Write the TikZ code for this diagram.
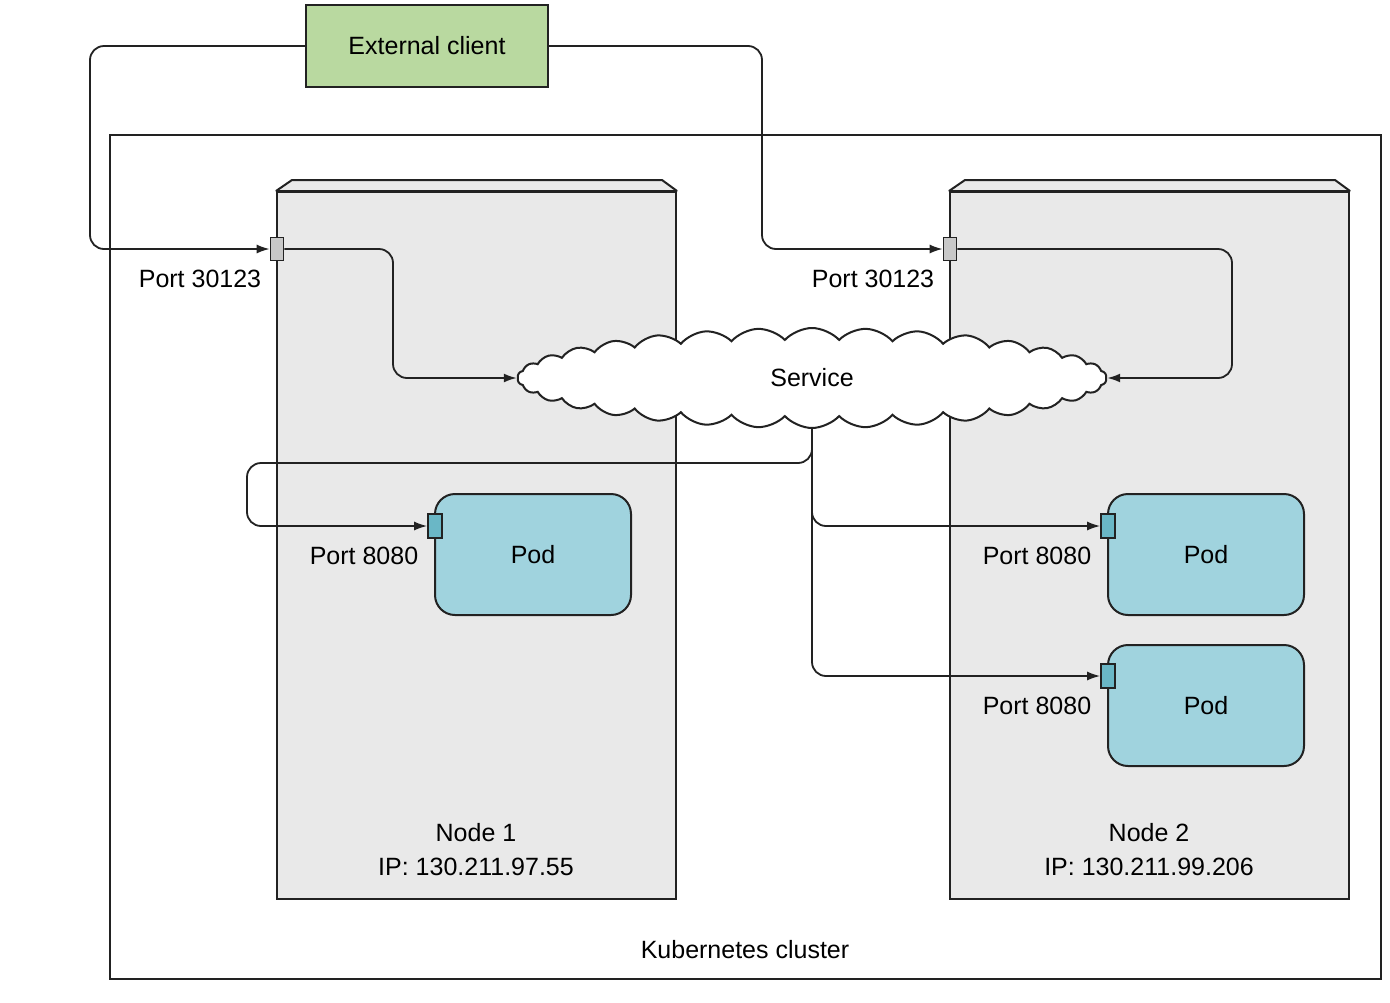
\documentclass[tikz,border=0pt]{standalone}
\usepackage{fontspec}
\setmainfont{Liberation Sans}
\usetikzlibrary{arrows.meta,shapes.symbols,calc}
\definecolor{clientgreen}{HTML}{B9D9A0}
\definecolor{nodegray}{HTML}{E9E9E9}
\definecolor{podblue}{HTML}{A0D3DE}
\definecolor{podport}{HTML}{6AB7C6}
\definecolor{portgray}{HTML}{C8C8C8}
\definecolor{linec}{HTML}{222222}
\begin{document}
\begin{tikzpicture}[x=1pt,y=-1pt,
  font=\fontsize{25}{34}\selectfont,
  line width=1.8pt,
  client/.style={draw=linec, fill=clientgreen, minimum width=242pt, minimum height=82pt, inner sep=0pt, line width=2pt},
  clusterbox/.style={draw=linec, minimum width=1271pt, minimum height=844pt, inner sep=0pt, line width=2pt},
  nodebox/.style={draw=linec, fill=nodegray, minimum width=399pt, minimum height=707pt, inner sep=0pt, line width=2pt},
  portbox/.style={draw=linec, fill=portgray, minimum width=13pt, minimum height=23pt, inner sep=0pt, line width=1.6pt},
  podbox/.style={draw=linec, fill=podblue, rounded corners=20pt, minimum width=196pt, minimum height=121pt, inner sep=0pt, line width=2pt},
  podportbox/.style={draw=linec, fill=podport, minimum width=14pt, minimum height=24pt, inner sep=0pt, line width=1.6pt},
  svcbox/.style={cloud, cloud puffs=34, cloud puff arc=95, cloud ignores aspect, draw=linec, fill=white, minimum width=589pt, minimum height=100pt, inner sep=0pt, line width=2pt},
  txt/.style={inner sep=0pt, align=center},
  conn/.style={draw=linec, line width=1.8pt, rounded corners=14pt, -{Latex[length=13pt,width=9pt]}},
  topface/.style={draw=linec, fill=nodegray, line width=2pt, line join=bevel},
]
\useasboundingbox (0,0) rectangle (1390,1002);

% cluster
\node[clusterbox] (cluster) at (745.5,557) {};
\node[txt] (clusterlbl) at (745,950) {Kubernetes cluster};

% external client
\node[client] (client) at (427,46) {External client};

% worker nodes
\node[nodebox] (n1) at (476.5,545.5) {};
\draw[topface] (n1.north west) -- ++(16,-11) -- ($(n1.north east)+(-15,-11)$) -- (n1.north east) -- cycle;
\node[nodebox] (n2) at (1149.5,545.5) {};
\draw[topface] (n2.north west) -- ++(16,-11) -- ($(n2.north east)+(-15,-11)$) -- (n2.north east) -- cycle;
\node[txt] (n1lbl) at (476,850) {Node 1\\IP: 130.211.97.55};
\node[txt] (n2lbl) at (1149,850) {Node 2\\IP: 130.211.99.206};

% pods
\node[podbox] (pod1) at (533,554.5) {Pod};
\node[podbox] (pod2) at (1206,554.5) {Pod};
\node[podbox] (pod3) at (1206,705.5) {Pod};

% ports
\node[portbox] (p1) at (277,249) {};
\node[portbox] (p2) at (950,249) {};
\node[podportbox] (pp1) at (435,526) {};
\node[podportbox] (pp2) at (1108,526) {};
\node[podportbox] (pp3) at (1108,676) {};

% port labels
\node[txt] (p1lbl) at (200,279) {Port 30123};
\node[txt] (p2lbl) at (873,279) {Port 30123};
\node[txt] (pp1lbl) at (364,556) {Port 8080};
\node[txt] (pp2lbl) at (1037,556) {Port 8080};
\node[txt] (pp3lbl) at (1037,706) {Port 8080};

% service cloud position
\coordinate (svcc) at (812,378);

% connectors from service to pods (under the cloud)
\draw[conn] (svcc) |- (247,463) |- (pp1.west);
\draw[conn] (svcc) |- (pp2.west);
\draw[conn] (svcc) |- (pp3.west);

% service cloud
\node[svcbox] (svc) at (svcc) {Service};

% connectors to node ports and to the service
\draw[conn] (client.west) -| (90,249) -- (p1.west);
\draw[conn] (client.east) -| (762,249) -- (p2.west);
\draw[conn] (p1.east) -| (393,378) -- (svc.west);
\draw[conn] (p2.east) -| (1232,378) -- (svc.east);
\end{tikzpicture}
\end{document}
